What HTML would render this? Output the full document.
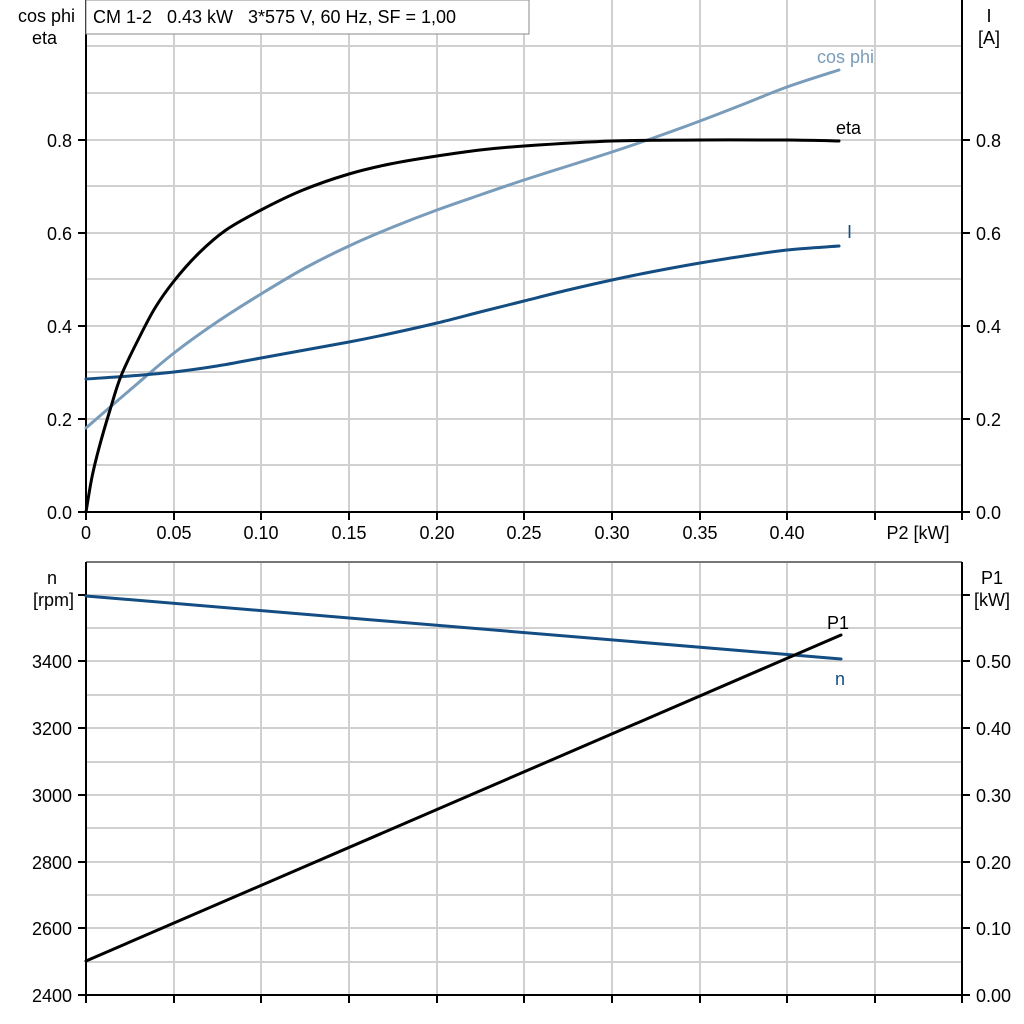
<!DOCTYPE html>
<html><head><style>
html,body{margin:0;padding:0;background:#fff;}
svg{display:block;}
text{font-family:"Liberation Sans",Arial,sans-serif;font-size:18px;white-space:pre;}
</style></head><body>
<svg width="1024" height="1024" viewBox="0 0 1024 1024" xmlns="http://www.w3.org/2000/svg">
<g stroke="#d0d0d0" stroke-width="2">
<line x1="174" y1="0" x2="174" y2="512"/><line x1="261" y1="0" x2="261" y2="512"/><line x1="349" y1="0" x2="349" y2="512"/><line x1="437" y1="0" x2="437" y2="512"/><line x1="524" y1="0" x2="524" y2="512"/><line x1="612" y1="0" x2="612" y2="512"/><line x1="700" y1="0" x2="700" y2="512"/><line x1="787" y1="0" x2="787" y2="512"/><line x1="875" y1="0" x2="875" y2="512"/>
<line x1="86" y1="46" x2="962" y2="46"/><line x1="86" y1="93" x2="962" y2="93"/><line x1="86" y1="140" x2="962" y2="140"/><line x1="86" y1="186" x2="962" y2="186"/><line x1="86" y1="233" x2="962" y2="233"/><line x1="86" y1="279" x2="962" y2="279"/><line x1="86" y1="326" x2="962" y2="326"/><line x1="86" y1="372" x2="962" y2="372"/><line x1="86" y1="419" x2="962" y2="419"/><line x1="86" y1="465" x2="962" y2="465"/>
<line x1="174" y1="562" x2="174" y2="995"/><line x1="261" y1="562" x2="261" y2="995"/><line x1="349" y1="562" x2="349" y2="995"/><line x1="437" y1="562" x2="437" y2="995"/><line x1="524" y1="562" x2="524" y2="995"/><line x1="612" y1="562" x2="612" y2="995"/><line x1="700" y1="562" x2="700" y2="995"/><line x1="787" y1="562" x2="787" y2="995"/><line x1="875" y1="562" x2="875" y2="995"/>
<line x1="86" y1="595" x2="962" y2="595"/><line x1="86" y1="628" x2="962" y2="628"/><line x1="86" y1="661" x2="962" y2="661"/><line x1="86" y1="695" x2="962" y2="695"/><line x1="86" y1="728" x2="962" y2="728"/><line x1="86" y1="762" x2="962" y2="762"/><line x1="86" y1="795" x2="962" y2="795"/><line x1="86" y1="828" x2="962" y2="828"/><line x1="86" y1="862" x2="962" y2="862"/><line x1="86" y1="895" x2="962" y2="895"/><line x1="86" y1="928" x2="962" y2="928"/><line x1="86" y1="962" x2="962" y2="962"/>
</g>
<line x1="86" y1="562" x2="962" y2="562" stroke="#777" stroke-width="2"/>
<g stroke="#000" stroke-width="2" fill="none">
<line x1="86" y1="0" x2="86" y2="512"/><line x1="962" y1="0" x2="962" y2="512"/><line x1="86" y1="512" x2="962" y2="512"/>
<line x1="86" y1="562" x2="86" y2="995"/><line x1="962" y1="562" x2="962" y2="995"/><line x1="86" y1="995" x2="962" y2="995"/>
<path d="M78 140H86M78 233H86M78 326H86M78 419H86M78 512H86M962 140H970M962 233H970M962 326H970M962 419H970M962 512H970"/>
<path d="M86 512V520M174 512V520M261 512V520M349 512V520M437 512V520M524 512V520M612 512V520M700 512V520M787 512V520M875 512V520M962 512V520"/>
<path d="M78 595H86M78 661H86M78 728H86M78 795H86M78 862H86M78 928H86M78 995H86M962 595H970M962 661H970M962 728H970M962 795H970M962 862H970M962 928H970M962 995H970"/>
<path d="M86 995V1003M174 995V1003M261 995V1003M349 995V1003M437 995V1003M524 995V1003M612 995V1003M700 995V1003M787 995V1003M875 995V1003M962 995V1003"/>
</g>
<g fill="none" stroke-width="3" stroke-linejoin="round" stroke-linecap="round">
<path id="cp" stroke="#7a9cbb" d=""/>
<path id="ci" stroke="#134d82" d=""/>
<path id="ce" stroke="#000" d=""/>
<path stroke="#134d82" d="M86 596 L841 659"/>
<path stroke="#000" d="M86 961 L841 635"/>
</g>
<rect x="86" y="0" width="443" height="34" fill="#fff" stroke="#888" stroke-width="1"/>
<text x="93" y="23">CM 1-2   0.43 kW   3*575 V, 60 Hz, SF = 1,00</text>
<g text-anchor="end">
<text x="75" y="22">cos phi</text><text x="57" y="44">eta</text>
<text x="72" y="147">0.8</text><text x="72" y="240">0.6</text><text x="72" y="333">0.4</text><text x="72" y="426">0.2</text><text x="72" y="519">0.0</text>
<text x="72" y="668">3400</text><text x="72" y="735">3200</text><text x="72" y="802">3000</text><text x="72" y="869">2800</text><text x="72" y="935">2600</text><text x="72" y="1002">2400</text>
<text x="74" y="606">[rpm]</text><text x="57" y="584">n</text>
</g>
<g text-anchor="middle">
<text x="86" y="539">0</text><text x="174" y="539">0.05</text><text x="261" y="539">0.10</text><text x="349" y="539">0.15</text><text x="437" y="539">0.20</text><text x="524" y="539">0.25</text><text x="612" y="539">0.30</text><text x="700" y="539">0.35</text><text x="787" y="539">0.40</text>
<text x="918" y="539">P2 [kW]</text>
<text x="989" y="22">I</text><text x="989" y="44">[A]</text>
<text x="992" y="584">P1</text><text x="992" y="606">[kW]</text>
</g>
<g>
<text x="976" y="147">0.8</text><text x="976" y="240">0.6</text><text x="976" y="333">0.4</text><text x="976" y="426">0.2</text><text x="976" y="519">0.0</text>
<text x="976" y="668">0.50</text><text x="976" y="735">0.40</text><text x="976" y="802">0.30</text><text x="976" y="869">0.20</text><text x="976" y="935">0.10</text><text x="976" y="1002">0.00</text>
</g>
<text x="817" y="63" fill="#7a9cbb">cos phi</text>
<text x="836" y="134" fill="#000">eta</text>
<text x="847" y="238" fill="#134d82">I</text>
<text x="827" y="629" fill="#000">P1</text>
<text x="835" y="685" fill="#134d82">n</text>
</svg>
<script>
function cr(p){var d="M"+p[0][0]+" "+p[0][1];for(var i=0;i<p.length-1;i++){var a=p[i-1]||p[i],b=p[i],c=p[i+1],e=p[i+2]||c;
d+=" C"+(b[0]+(c[0]-a[0])/6).toFixed(1)+" "+(b[1]+(c[1]-a[1])/6).toFixed(1)+","+(c[0]-(e[0]-b[0])/6).toFixed(1)+" "+(c[1]-(e[1]-b[1])/6).toFixed(1)+","+c[0]+" "+c[1];}return d;}
document.getElementById("ce").setAttribute("d",cr([[86,512],[92,477],[99,448],[110,410],[121,376],[138,340],[155,308],[174,281],[199,253],[226,230],[261,210],[303,190],[349,174],[390,164],[437,156],[480,150],[524,146],[612,141],[700,140],[787,140],[839,141]]));
document.getElementById("cp").setAttribute("d",cr([[86,428],[130,390],[174,353],[217,322],[261,294],[305,268],[349,246],[393,227],[437,210],[480,195],[524,180],[568,166],[612,152],[656,137],[700,121],[744,104],[787,87],[839,70]]));
document.getElementById("ci").setAttribute("d",cr([[86,379],[130,376],[174,372],[217,366],[261,358],[305,350],[349,342],[393,333],[437,323],[480,312],[524,301],[568,290],[612,280],[656,271],[700,263],[744,256],[787,250],[839,246]]));
</script>
</body></html>
